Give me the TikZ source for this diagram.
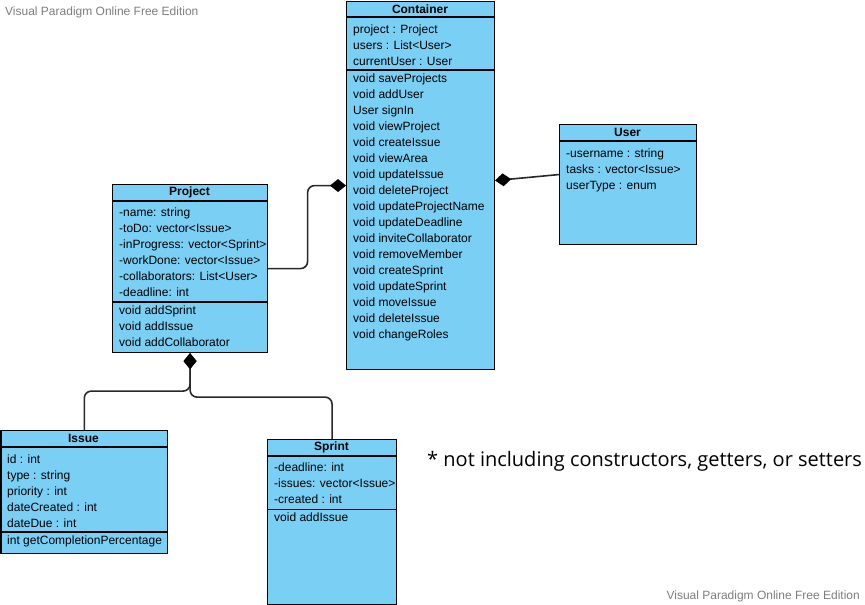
\documentclass[tikz,border=0pt]{standalone}
\usepackage{fontspec}
\setmainfont{Liberation Sans}
\newfontfamily\notefont{Open Sans}
\usepackage{xcolor}
\usepackage{tikz}
\usetikzlibrary{arrows.meta,positioning}
\definecolor{classblue}{RGB}{122,207,245}
\definecolor{markgray}{RGB}{125,125,125}
\definecolor{linkgray}{RGB}{40,40,40}
\tikzset{
    classbox/.style={draw=black,line width=1.1pt,fill=classblue,anchor=north west,inner sep=0pt},
    classname/.style={font=\fontsize{12}{14}\selectfont\bfseries,inner sep=0pt},
    members/.style={anchor=north west,align=left,inner sep=0pt,font=\fontsize{12}{16}\selectfont},
    sepline/.style={draw=black,line width=1.1pt},
    composition/.style={draw=linkgray,line width=1.6pt,rounded corners=7pt},
    diamondtip/.tip={Diamond[length=16pt,width=13pt,fill=black,color=black]},
    watermark/.style={text=markgray,font=\fontsize{12}{14}\selectfont,inner sep=0pt}
}

\begin{document}
\begin{tikzpicture}[x=1pt,y=-1pt]
                \useasboundingbox (0,0) rectangle (865,605);
                % Class boxes
                \node[classbox,minimum width=148,minimum height=368] (container) at (346,1) {};
                \node[classbox,minimum width=137,minimum height=120] (user) at (559,124) {};
                \node[classbox,minimum width=155,minimum height=168] (project) at (112,184) {};
                \node[classbox,minimum width=166.5,minimum height=123] (issue) at (0.5,430) {};
                \node[classbox,minimum width=129,minimum height=165] (sprint) at (267,439) {};
                % Compartments
                \draw[sepline] (container.west |- 0,17) -- (container.east |- 0,17);
                \draw[sepline] (container.west |- 0,70) -- (container.east |- 0,70);
                \draw[sepline] (user.west |- 0,141) -- (user.east |- 0,141);
                \draw[sepline] (project.west |- 0,201) -- (project.east |- 0,201);
                \draw[sepline] (project.west |- 0,302) -- (project.east |- 0,302);
                \draw[sepline] (issue.west |- 0,447) -- (issue.east |- 0,447);
                \draw[sepline] (issue.west |- 0,532) -- (issue.east |- 0,532);
                \draw[sepline] (sprint.west |- 0,456) -- (sprint.east |- 0,456);
                \draw[sepline] (sprint.west |- 0,509.5) -- (sprint.east |- 0,509.5);
                % Class names
                \node[classname] (containername) at (420,9) {Container};
                \node[classname] (username) at (627.5,132.5) {User};
                \node[classname] (projectname) at (189.5,192.5) {Project};
                \node[classname] (issuename) at (83.5,438.5) {Issue};
                \node[classname] (sprintname) at (331.5,447.5) {Sprint};
                % Attributes and methods
                \node[members] (containerattr) at (353,21.8) {\strut project : Project\\users : List<User>\\currentUser : User};
                \node[members] (containerops) at (353,70.8) {\strut void saveProjects\\void addUser\\User signIn\\void viewProject\\void createIssue\\void viewArea\\void updateIssue\\void deleteProject\\void updateProjectName\\void updateDeadline\\void inviteCollaborator\\void removeMember\\void createSprint\\void updateSprint\\void moveIssue\\void deleteIssue\\void changeRoles};
                \node[members] (userattr) at (566,145.8) {\strut -username : string\\tasks : vector<Issue>\\userType : enum};
                \node[members] (projectattr) at (119,205.3) {\strut -name: string\\-toDo: vector<Issue>\\-inProgress: vector<Sprint>\\-workDone: vector<Issue>\\-collaborators: List<User>\\-deadline: int};
                \node[members] (projectops) at (119,303.3) {\strut void addSprint\\void addIssue\\void addCollaborator};
                \node[members] (issueattr) at (7,451.8) {\strut id : int\\type : string\\priority : int\\dateCreated : int\\dateDue : int};
                \node[members] (issueops) at (7,533.3) {\strut int getCompletionPercentage};
                \node[members] (sprintattr) at (274,460.3) {\strut -deadline: int\\-issues: vector<Issue>\\-created : int};
                \node[members] (sprintops) at (274,510.5) {\strut void addIssue};
                % Compositions
                \draw[composition,-diamondtip] (project.east) -- ++(39.5,0) |- (container.west);
                \draw[composition,diamondtip-] ([yshift=5pt]container.east) -- ([yshift=10pt]user.west);
                \draw[composition,diamondtip-] (project.south) -- ++(0,38) -| (issue.north);
                \draw[composition,diamondtip-] (project.south) -- ++(0,44) -| (sprint.north);
                % Labels
                \node[anchor=base west,inner sep=0pt,font=\notefont\fontsize{20}{24}\selectfont] (note) at (427,466) {* not including constructors, getters, or setters};
                \node[watermark,anchor=base west] (markleft) at (5,16) {Visual Paradigm Online Free Edition};
                \node[watermark,anchor=base east] (markright) at (860,599) {Visual Paradigm Online Free Edition};
            \end{tikzpicture}
\end{document}
